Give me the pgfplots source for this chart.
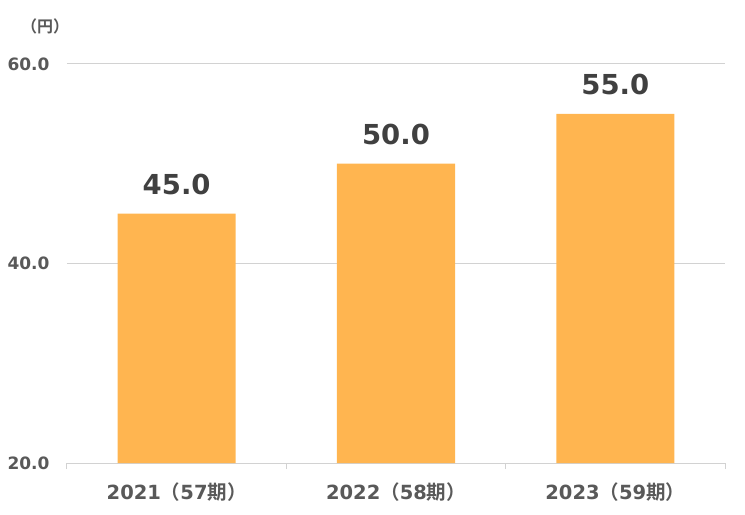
\documentclass[border=0pt]{standalone}
\usepackage{fontspec}
\usepackage{pgfplots}
\pgfplotsset{compat=1.18}
\setmainfont{DejaVu Sans}
\newfontfamily\cjk[BoldFont={Noto Sans CJK JP Bold}]{Noto Sans CJK JP}
\definecolor{barorange}{RGB}{255,181,80}
\definecolor{ticktext}{RGB}{89,89,89}
\definecolor{valtext}{RGB}{64,64,64}
\definecolor{gridgray}{RGB}{210,210,210}
\begin{document}
\begin{tikzpicture}
\begin{axis}[
  scale only axis,
  width=658pt, height=399pt,
  xmin=-0.5, xmax=2.5,
  ymin=20, ymax=60,
  ytick={20,40,60},
  xtick={0,1,2},
  xticklabels={{2021{\cjk （}57{\cjk 期）}},{2022{\cjk （}58{\cjk 期）}},{2023{\cjk （}59{\cjk 期）}}},
  major tick length=0pt,
  extra x ticks={-0.5,0.5,1.5,2.5},
  extra x tick labels={},
  extra x tick style={major tick length=6pt, tick align=outside, tick style={draw=gridgray, line width=1pt}},
  axis x line*=bottom,
  axis y line*=left,
  x axis line style={draw=gridgray, line width=1pt, -},
  y axis line style={draw=none},
  ymajorgrids,
  grid style={draw=gridgray, line width=1pt},
  /pgf/number format/assume math mode=true,
  yticklabel={\pgfmathprintnumber[fixed,zerofill,precision=1]{\tick}},
  yticklabel style={font=\bfseries\fontsize{17}{17}\selectfont, text=ticktext, xshift=-14pt},
  xticklabel style={font=\bfseries\fontsize{19.5}{19.5}\selectfont, text=ticktext, yshift=-16pt},
  clip=false,
  nodes near coords={\pgfmathprintnumber[fixed,zerofill,precision=1]{\pgfplotspointmeta}},
  every node near coord/.append style={font=\bfseries\fontsize{27.5}{27.5}\selectfont, text=valtext, anchor=south, inner sep=0pt, yshift=19pt},
]
\addplot[ybar, bar width=0.538, fill=barorange, draw=none] coordinates {(0,45) (1,50) (2,55)};
\node[font=\bfseries\fontsize{16}{16}\selectfont\cjk, text=ticktext] at (axis cs:-0.6,63.8) {（円）};
\path (rel axis cs:-0.1018,-0.1303) rectangle (rel axis cs:1.0304,1.1604);
\end{axis}
\end{tikzpicture}
\end{document}
